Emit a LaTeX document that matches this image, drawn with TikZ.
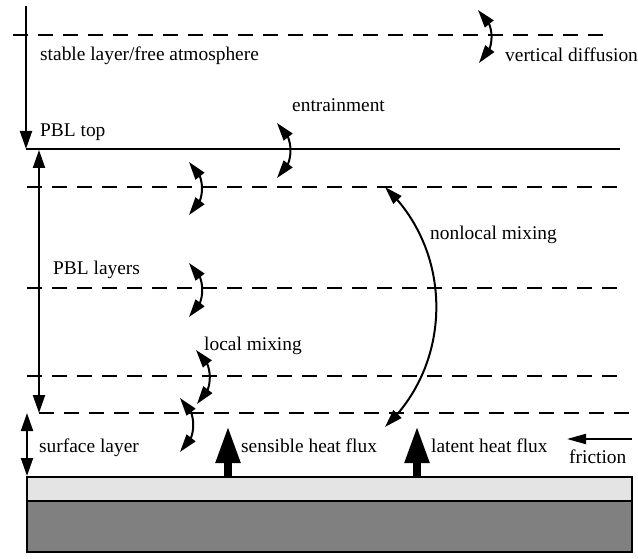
\documentclass[tikz,border=0pt]{standalone}
\usepackage{fontspec}
\setmainfont{Liberation Serif}
\usetikzlibrary{arrows.meta,bending}
\definecolor{lightground}{RGB}{228,228,228}
\definecolor{darkground}{RGB}{128,128,128}
\begin{document}
\begin{tikzpicture}[x=1pt,y=-1pt,
  lbl/.style={font=\fontsize{19.4}{22}\selectfont, inner sep=0pt, anchor=base west},
  solidline/.style={line width=2pt},
  dashline/.style={line width=2pt, dash pattern=on 15pt off 10pt},
  onehead/.style={line width=2pt, -{Triangle[length=18pt,width=12pt]}},
  twohead/.style={line width=2pt, {Triangle[length=18pt,width=12pt]}-{Triangle[length=18pt,width=12pt]}},
  curvehead/.style={line width=2pt, {Triangle[length=18pt,width=11pt,flex]}-{Triangle[length=18pt,width=11pt,flex]}},
  fluxarrow/.style={line width=8pt, -{Triangle[length=37pt,width=23pt]}},
  ground/.style={line width=1.5pt, draw=black}
]
\useasboundingbox (0,0) rectangle (638,559);

% ground
\filldraw[ground, fill=lightground] (27,477) rectangle (632,501);
\filldraw[ground, fill=darkground] (27,501) rectangle (632,552);

% horizontal lines
\draw[dashline] (13,35) -- (607,35);
\draw[solidline] (26,149) -- (620,149);
\draw[dashline] (27,187) -- (620,187);
\draw[dashline] (27,288) -- (620,288);
\draw[dashline] (27,376) -- (620,376);
\draw[dashline] (39,413) -- (632,413);

% coordinates
\coordinate (topstart) at (26,6);
\coordinate (pbltop) at (26,149);
\coordinate (layA) at (39,150);
\coordinate (layB) at (39,413);
\coordinate (surfA) at (27,413);
\coordinate (surfB) at (27,476);
\coordinate (vdA) at (478,10);
\coordinate (vdB) at (479,63);
\coordinate (enA) at (277,123);
\coordinate (enB) at (277,178);
\coordinate (m1A) at (189,162);
\coordinate (m1B) at (189,215);
\coordinate (m2A) at (189,263);
\coordinate (m2B) at (189,317);
\coordinate (m3A) at (196,350);
\coordinate (m3B) at (197,404);
\coordinate (m4A) at (180,398);
\coordinate (m4B) at (180,452);
\coordinate (nlA) at (385,187);
\coordinate (nlB) at (385,427);
\coordinate (shB) at (228,477);
\coordinate (shT) at (228,426);
\coordinate (ltB) at (417,477);
\coordinate (ltT) at (417,426);
\coordinate (frA) at (632,439);
\coordinate (frB) at (567,439);

% vertical arrows
\draw[onehead] (topstart) -- (pbltop);
\draw[twohead] (layA) -- (layB);
\draw[twohead] (surfA) -- (surfB);

% curved arrows
\draw[curvehead] (vdA) to[bend left=57] (vdB);
\draw[curvehead] (enA) to[bend left=57] (enB);
\draw[curvehead] (m1A) to[bend left=57] (m1B);
\draw[curvehead] (m2A) to[bend left=57] (m2B);
\draw[curvehead] (m3A) to[bend left=57] (m3B);
\draw[curvehead] (m4A) to[bend left=57] (m4B);
\draw[curvehead] (nlA) to[bend left=47] (nlB);

% flux arrows
\draw[fluxarrow] (shB) -- (shT);
\draw[fluxarrow] (ltB) -- (ltT);
\draw[line width=2pt, -{Triangle[length=19pt,width=10pt]}] (frA) -- (frB);

% labels
\node[lbl] (stable) at (40,61) {stable layer/free atmosphere};
\node[lbl] (vdiff) at (505,62) {vertical diffusion};
\node[lbl] (entr) at (292,112) {entrainment};
\node[lbl] (pbltoplbl) at (40,137) {PBL top};
\node[lbl] (nonloc) at (430,240) {nonlocal mixing};
\node[lbl] (pbllay) at (53,275) {PBL layers};
\node[lbl] (locmix) at (204,350) {local mixing};
\node[lbl] (surf) at (39,452) {surface layer};
\node[lbl] (sens) at (241,452) {sensible heat flux};
\node[lbl] (lat) at (431,452) {latent heat flux};
\node[lbl] (fric) at (569,463) {friction};
\end{tikzpicture}
\end{document}
